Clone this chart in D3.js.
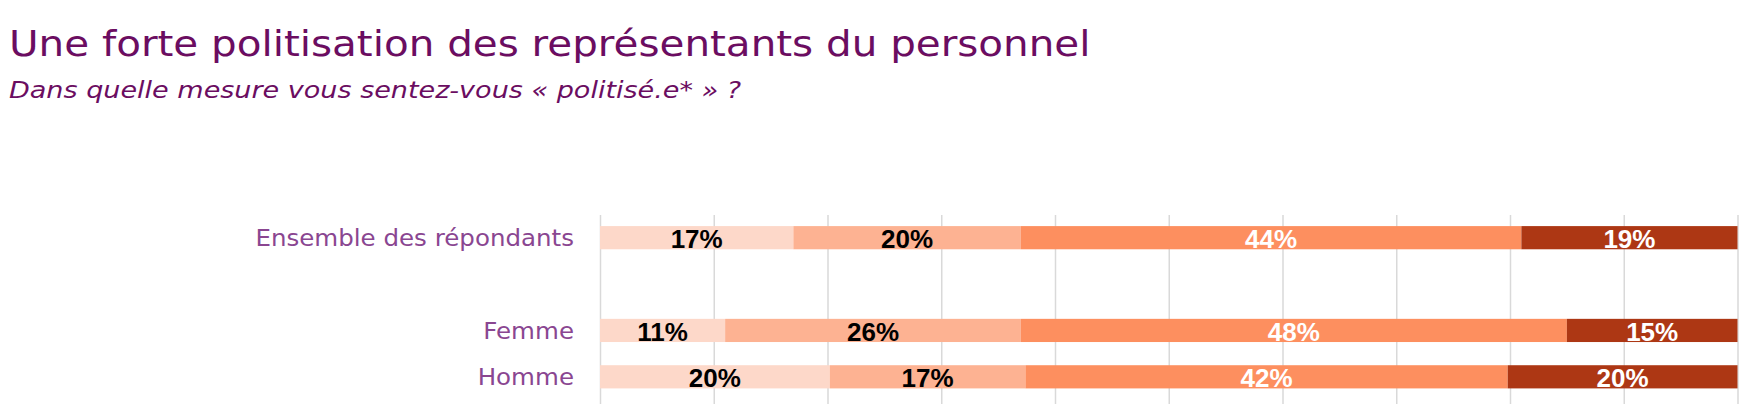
<!DOCTYPE html>
<meta charset="utf-8">
<style type="text/css">
  body { margin: 0; background: #fff; }
  .title { font-family: "DejaVu Sans", sans-serif; fill: #6b0d61; }
  .cat { font-family: "DejaVu Sans", sans-serif; fill: #8a4691; }
  .val { font-family: "Liberation Sans", Arial, sans-serif; font-weight: bold; }
  .grid line { stroke: #d9d9d9; stroke-width: 1.5; }
  .grid path { display: none; }
</style>
<body>
</body>
<script src="https://d3js.org/d3.v7.min.js"></script>
<script>

// rows of the chart (the blank one is the spacer between the total and the genders)
var categories = ["Ensemble des répondants", " ", "Femme", "Homme"];
var rows = ["Ensemble des répondants", "Femme", "Homme"];

// the four answer levels, from least to most politicised
var levels = ["l1", "l2", "l3", "l4"];

// shares in % per row, one value per level
var ensemble = [17, 20, 44, 19];
var femme = [11, 26, 48, 15];
var homme = [20.2, 17.2, 42.4, 20.2];

var colors = ["#fdd8c9", "#fdb292", "#fd8f5f", "#ad3714"];
var textColors = ["#000", "#000", "#fff", "#fff"];

var width = 1742, height = 404;

var svg = d3.select("body").append("svg")
    .attr("width", width)
    .attr("height", height);

// the original font (Century Gothic) is wider than anything installed, so stretch a bit
function widen(sel, factor) {
    sel.each(function() {
        var w = this.getComputedTextLength();
        d3.select(this)
            .attr("textLength", w * factor)
            .attr("lengthAdjust", "spacingAndGlyphs");
    });
}

// titles
svg.append("text")
    .attr("class", "title")
    .attr("x", 9)
    .attr("y", 56)
    .style("font-size", "35px")
    .text("Une forte politisation des représentants du personnel")
    .call(widen, 1.155);

svg.append("text")
    .attr("class", "title")
    .attr("x", 9)
    .attr("y", 98)
    .style("font-size", "23.5px")
    .style("font-style", "italic")
    .text("Dans quelle mesure vous sentez-vous « politisé.e* » ?")
    .call(widen, 1.15);

// scales
var x = d3.scaleLinear()
    .domain([0, 100])
    .range([600, 1737.5]);

var y = d3.scaleBand()
    .domain(categories)
    .range([214.5, 400])
    .paddingInner(0.5)
    .paddingOuter(0.25);

// vertical grid lines every 10%
svg.append("g")
    .attr("class", "grid")
    .attr("transform", "translate(0,215)")
    .call(d3.axisBottom(x).tickValues(d3.range(0, 101, 10)).tickSize(height - 215).tickFormat(""));

// build the table for d3.stack
var table = rows.map(function(r, i) {
    var vals = [ensemble, femme, homme][i];
    var o = {row: r};
    levels.forEach(function(l, j) { o[l] = vals[j]; });
    return o;
});

var series = d3.stack().keys(levels)(table);

var groups = svg.append("g")
  .selectAll("g")
  .data(series)
  .join("g")
    .attr("fill", function(d, i) { return colors[i]; });

groups.selectAll("rect")
  .data(function(d) { return d; })
  .join("rect")
    .attr("x", function(d) { return x(d[0]); })
    .attr("y", function(d) { return y(d.data.row); })
    .attr("width", function(d) { return x(d[1]) - x(d[0]); })
    .attr("height", y.bandwidth());

// value labels, centred in each segment
series.forEach(function(s, i) {
    svg.append("g")
      .selectAll("text")
      .data(s)
      .join("text")
        .attr("class", "val")
        .attr("fill", textColors[i])
        .attr("text-anchor", "middle")
        .style("font-size", "26px")
        .attr("x", function(d) { return (x(d[0]) + x(d[1])) / 2; })
        .attr("y", function(d) { return y(d.data.row) + y.bandwidth() - 1; })
        .text(function(d) { return Math.round(d[1] - d[0]) + "%"; });
});

// row labels
svg.append("g")
  .selectAll("text")
  .data(rows)
  .join("text")
    .attr("class", "cat")
    .attr("text-anchor", "end")
    .attr("x", 574)
    .attr("y", function(d) { return y(d) + y.bandwidth() / 2 + 8.5; })
    .style("font-size", "22.5px")
    .text(function(d) { return d; })
    .call(widen, 1.09);

</script>
